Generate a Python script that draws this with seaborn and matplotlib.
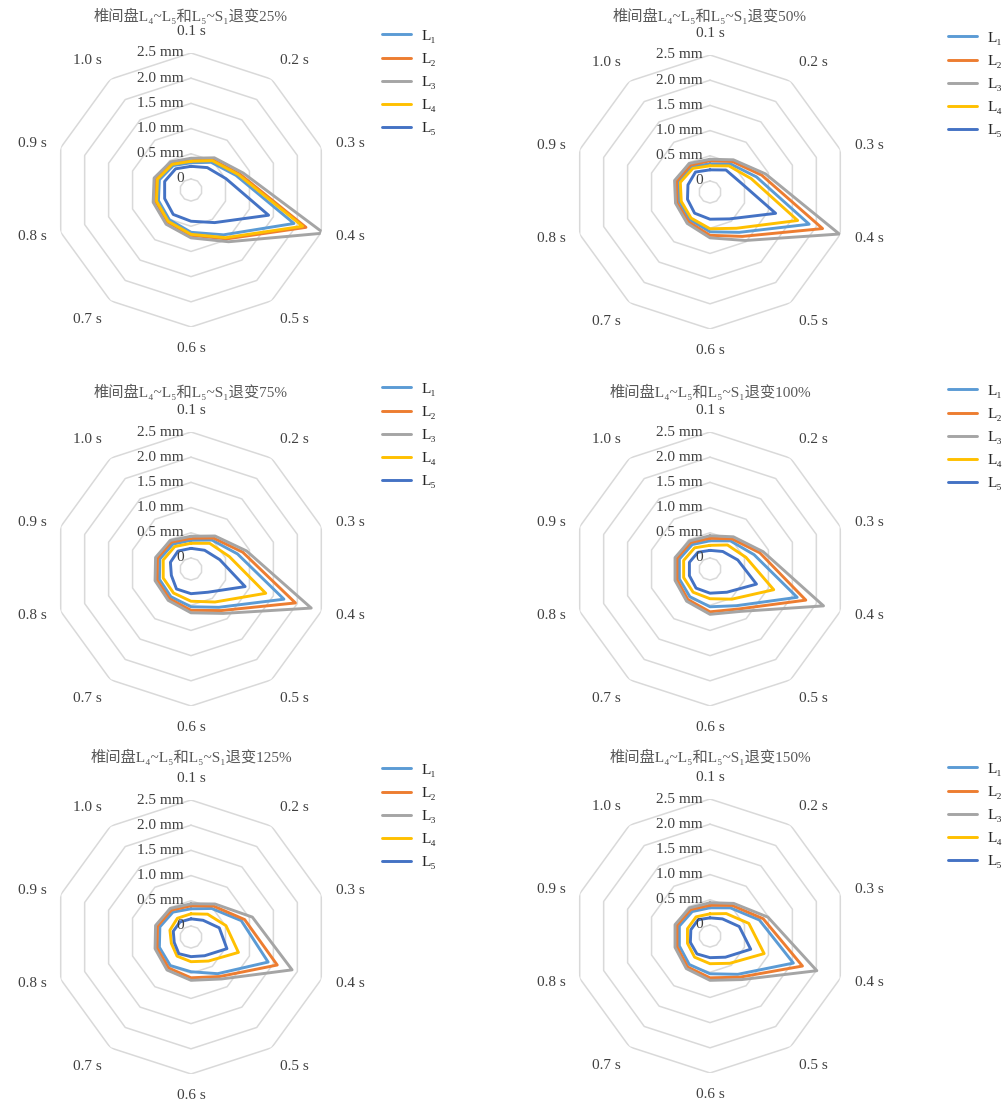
import numpy as np
import pandas as pd
import seaborn as sns
import matplotlib.pyplot as plt
from matplotlib.lines import Line2D

sns.set_style('white')
plt.rcParams['font.family'] = ['Liberation Serif', 'DejaVu Serif', 'Noto Sans CJK SC']

times = ['0.1 s', '0.2 s', '0.3 s', '0.4 s', '0.5 s', '0.6 s', '0.7 s', '0.8 s', '0.9 s', '1.0 s']
series = ['L1', 'L2', 'L3', 'L4', 'L5']
legend_labels = ['L₁', 'L₂', 'L₃', 'L₄', 'L₅']
colors = ['#5B9BD5', '#ED7D31', '#A5A5A5', '#FFC000', '#4472C4']
rings = [0, 0.5, 1.0, 1.5, 2.0, 2.5]
ring_labels = ['0', '0.5 mm', '1.0 mm', '1.5 mm', '2.0 mm', '2.5 mm']
degrees = ['25%', '50%', '75%', '100%', '125%', '150%']

# displacement (mm) at 0.1 s ... 1.0 s
d25 = {
    'L1': [0.32, 0.46, 0.72, 1.93, 0.88, 0.62, 0.51, 0.46, 0.44, 0.38],
    'L2': [0.37, 0.52, 0.80, 2.18, 0.98, 0.68, 0.57, 0.52, 0.50, 0.43],
    'L3': [0.41, 0.57, 0.87, 2.55, 1.05, 0.73, 0.62, 0.57, 0.55, 0.47],
    'L4': [0.35, 0.50, 0.77, 2.11, 0.95, 0.66, 0.55, 0.50, 0.48, 0.41],
    'L5': [0.25, 0.33, 0.51, 1.40, 0.58, 0.40, 0.38, 0.33, 0.33, 0.30],
}
d50 = {
    'L1': [0.34, 0.47, 0.75, 1.85, 0.77, 0.57, 0.46, 0.42, 0.44, 0.40],
    'L2': [0.40, 0.53, 0.86, 2.13, 0.87, 0.64, 0.51, 0.47, 0.48, 0.44],
    'L3': [0.43, 0.57, 0.94, 2.48, 0.97, 0.69, 0.55, 0.50, 0.52, 0.48],
    'L4': [0.30, 0.42, 0.64, 1.61, 0.67, 0.51, 0.42, 0.38, 0.40, 0.36],
    'L5': [0.22, 0.32, 0.41, 1.15, 0.44, 0.32, 0.30, 0.25, 0.24, 0.27],
}
d75 = {
    'L1': [0.35, 0.49, 0.75, 1.72, 0.72, 0.53, 0.46, 0.44, 0.43, 0.39],
    'L2': [0.39, 0.54, 0.86, 1.96, 0.80, 0.60, 0.51, 0.49, 0.48, 0.44],
    'L3': [0.43, 0.59, 0.94, 2.29, 0.87, 0.65, 0.55, 0.53, 0.52, 0.48],
    'L4': [0.29, 0.41, 0.58, 1.34, 0.59, 0.42, 0.37, 0.36, 0.36, 0.33],
    'L5': [0.19, 0.24, 0.38, 0.91, 0.35, 0.27, 0.27, 0.19, 0.21, 0.22],
}
d100 = {
    'L1': [0.34, 0.47, 0.70, 1.60, 0.68, 0.53, 0.46, 0.42, 0.42, 0.38],
    'L2': [0.39, 0.52, 0.82, 1.78, 0.76, 0.63, 0.53, 0.47, 0.47, 0.43],
    'L3': [0.44, 0.57, 0.89, 2.15, 0.82, 0.68, 0.57, 0.51, 0.51, 0.47],
    'L4': [0.25, 0.37, 0.53, 1.11, 0.52, 0.37, 0.35, 0.33, 0.33, 0.30],
    'L5': [0.15, 0.21, 0.36, 0.75, 0.35, 0.26, 0.25, 0.21, 0.21, 0.19],
}
d125 = {
    'L1': [0.34, 0.48, 0.83, 1.39, 0.68, 0.47, 0.48, 0.44, 0.43, 0.39],
    'L2': [0.40, 0.54, 0.90, 1.58, 0.75, 0.59, 0.54, 0.49, 0.48, 0.44],
    'L3': [0.44, 0.59, 1.06, 1.89, 0.81, 0.64, 0.59, 0.53, 0.52, 0.48],
    'L4': [0.24, 0.34, 0.51, 0.77, 0.37, 0.27, 0.25, 0.19, 0.22, 0.24],
    'L5': [0.14, 0.19, 0.37, 0.53, 0.24, 0.17, 0.19, 0.13, 0.15, 0.15],
}
d150 = {
    'L1': [0.34, 0.47, 0.81, 1.52, 0.72, 0.53, 0.48, 0.42, 0.42, 0.38],
    'L2': [0.39, 0.53, 0.89, 1.71, 0.79, 0.61, 0.54, 0.47, 0.47, 0.43],
    'L3': [0.44, 0.58, 0.99, 2.01, 0.85, 0.66, 0.58, 0.51, 0.51, 0.47],
    'L4': [0.22, 0.33, 0.59, 0.91, 0.45, 0.33, 0.30, 0.25, 0.25, 0.25],
    'L5': [0.14, 0.20, 0.39, 0.63, 0.30, 0.21, 0.22, 0.19, 0.18, 0.18],
}
charts = [d25, d50, d75, d100, d125, d150]

W, H = 1006, 1104
fig = plt.figure(figsize=(W / 100, H / 100), dpi=100)

# layout in pixels
centers = [(191, 190), (710, 192), (191, 569), (710, 569), (191, 937), (710, 936)]
title_y = [16, 16, 392, 392, 757, 757]
legend_xy = [(382, 29), (948, 31), (382, 382), (948, 384), (382, 763), (948, 762)]
R = 137
rmin, rmax = -0.22, 2.5
theta = np.linspace(0, 2 * np.pi, len(times) + 1)
r_lab = rmin + 152 / R * (rmax - rmin)

for data, deg, (cx, cy), ty, (lx, ly) in zip(charts, degrees, centers, title_y, legend_xy):
    ax = fig.add_axes([(cx - R) / W, (H - cy - R) / H, 2 * R / W, 2 * R / H], projection='polar')
    ax.set_theta_zero_location('N')
    ax.set_theta_direction(-1)

    # polygon grid rings
    for r in rings:
        ax.plot(theta, [r] * len(theta), color='#D9D9D9', lw=1.1, zorder=1)

    rows = []
    for s in series:
        vals = data[s] + data[s][:1]
        for t, v in zip(theta, vals):
            rows.append((s, t, v))
    df = pd.DataFrame(rows, columns=['line', 'theta', 'mm'])
    sns.lineplot(data=df, x='theta', y='mm', hue='line', palette=dict(zip(series, colors)),
                 sort=False, estimator=None, lw=2.1, legend=False, ax=ax, zorder=3)

    ax.set_ylim(rmin, rmax)
    ax.set_xticks([])
    ax.set_yticks([])
    ax.grid(False)
    ax.spines['polar'].set_visible(False)
    ax.patch.set_alpha(0)
    ax.set_xlabel('')
    ax.set_ylabel('')

    for t, lab in zip(theta[:-1], times):
        sx, cy_ = np.sin(t), np.cos(t)
        ha = 'left' if sx > 0.1 else ('right' if sx < -0.1 else 'center')
        va = 'bottom' if cy_ > 0.5 else ('top' if cy_ < -0.5 else 'center')
        ax.text(t, r_lab, lab, ha=ha, va=va, fontsize=11, color='#404040', clip_on=False)
    for r, lab in zip(rings, ring_labels):
        ax.annotate(lab, xy=(0, r), xytext=(-5, 0), textcoords='offset points',
                    ha='right', va='center', fontsize=11, color='#404040', annotation_clip=False)

    fig.text(cx / W, 1 - ty / H, '椎间盘L₄~L₅和L₅~S₁退变' + deg, ha='center', va='center',
             fontsize=11, color='#595959')

    handles = [Line2D([], [], color=c, lw=2.1) for c in colors]
    fig.legend(handles, legend_labels, loc='upper left', bbox_to_anchor=(lx / W, 1 - ly / H),
               frameon=False, fontsize=11, handlelength=1.9, handletextpad=0.7,
               labelspacing=0.62, borderpad=0, borderaxespad=0)

fig.savefig('out.png', dpi=100)
